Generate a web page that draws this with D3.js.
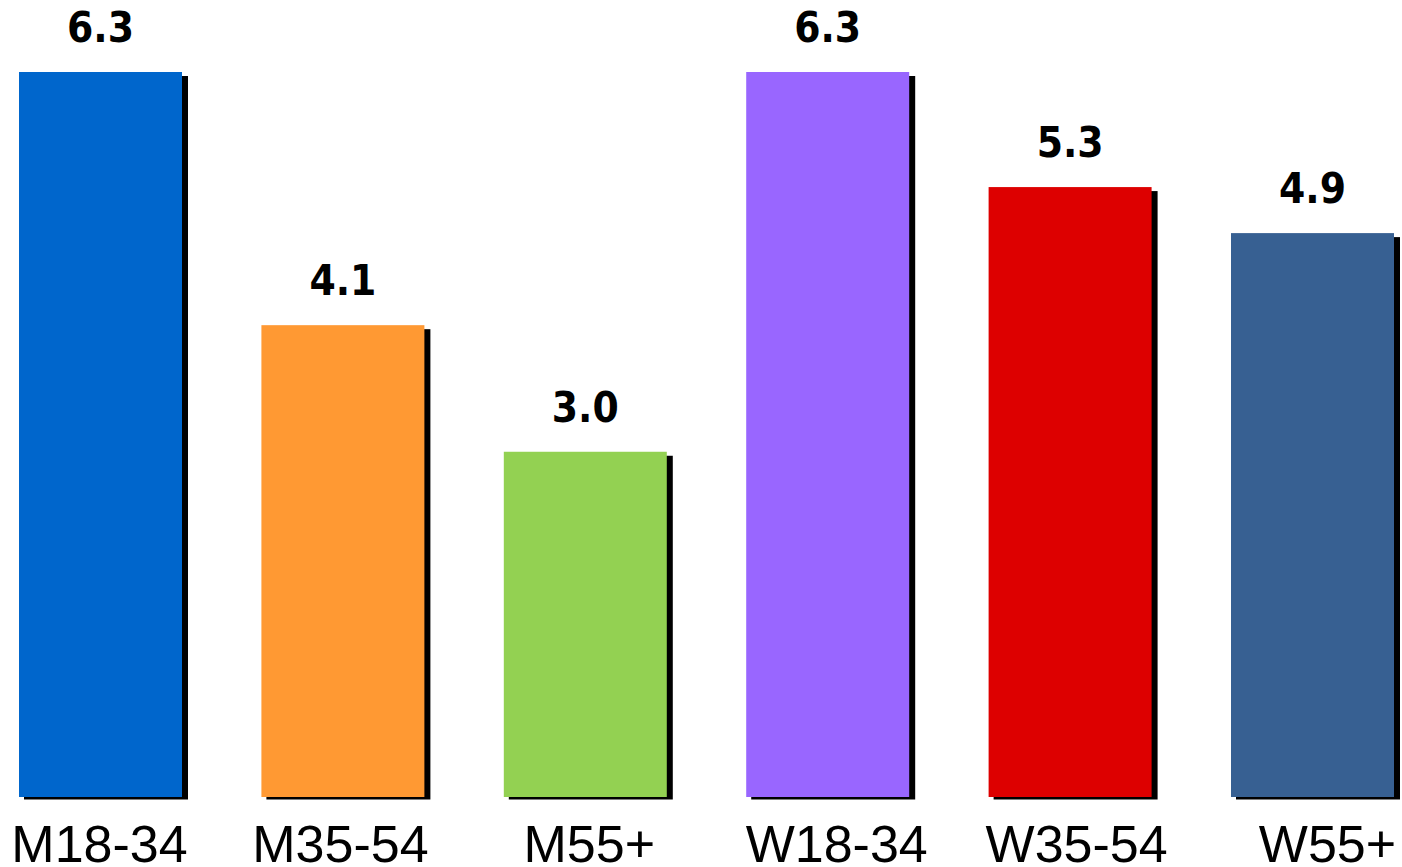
<!DOCTYPE html>
<html>
<head>
<meta charset="utf-8">
<script src="https://cdn.jsdelivr.net/npm/d3@7"></script>
<style>
  html, body { margin: 0; padding: 0; background: #ffffff; }
  svg { display: block; }
</style>
</head>
<body>
<svg id="chart" width="1402" height="867"></svg>
<script>
// Chart data
const categories = ["M18-34", "M35-54", "M55+", "W18-34", "W35-54", "W55+"];
const values = [6.3, 4.1, 3.0, 6.3, 5.3, 4.9];
const valueLabels = ["6.3", "4.1", "3.0", "6.3", "5.3", "4.9"];
const barColors = ["#0066cc", "#ff9933", "#93d152", "#9966ff", "#dd0000", "#376092"];

// Layout
const baseY = 797;
const topY = 72;
const shadowDx = 5, shadowDy = 4, shadowBelow = 2.5;
// small horizontal nudges of the category captions
const captionNudge = [-1, -2.5, 4, 9, 6.5, 15];

const svg = d3.select("#chart");

const x = d3.scaleBand()
  .domain(categories)
  .range([-20.7, 1433.7])
  .paddingInner(0.3276)
  .paddingOuter(0.1638);

const y = d3.scaleLinear()
  .domain([0, 6.3])
  .range([baseY, topY]);

const rows = categories.map((c, i) => ({ c, v: values[i], label: valueLabels[i], color: barColors[i], nudge: captionNudge[i] }));

// drop shadows
svg.append("g").selectAll("rect")
  .data(rows)
  .join("rect")
  .attr("x", d => x(d.c) + shadowDx)
  .attr("y", d => y(d.v) + shadowDy)
  .attr("width", x.bandwidth() + 1)
  .attr("height", d => baseY + shadowBelow - (y(d.v) + shadowDy))
  .attr("fill", "#000000");

// bars
svg.append("g").selectAll("rect")
  .data(rows)
  .join("rect")
  .attr("x", d => x(d.c))
  .attr("y", d => y(d.v))
  .attr("width", x.bandwidth())
  .attr("height", d => baseY - y(d.v))
  .attr("fill", d => d.color);

// value labels
svg.append("g").selectAll("text")
  .data(rows)
  .join("text")
  .attr("x", d => x(d.c) + x.bandwidth() / 2)
  .attr("y", d => y(d.v) - 30)
  .attr("text-anchor", "middle")
  .attr("font-family", "'DejaVu Sans Condensed', 'DejaVu Sans', sans-serif")
  .attr("font-stretch", "condensed")
  .attr("font-weight", "bold")
  .attr("font-size", 42)
  .attr("fill", "#000000")
  .text(d => d.label);

// category captions
svg.append("g").selectAll("text")
  .data(rows)
  .join("text")
  .attr("x", d => x(d.c) + x.bandwidth() / 2 + d.nudge)
  .attr("y", 862)
  .attr("text-anchor", "middle")
  .attr("font-family", "'Liberation Sans', Arial, sans-serif")
  .attr("font-size", 52)
  .attr("fill", "#000000")
  .text(d => d.c);
</script>
</body>
</html>
